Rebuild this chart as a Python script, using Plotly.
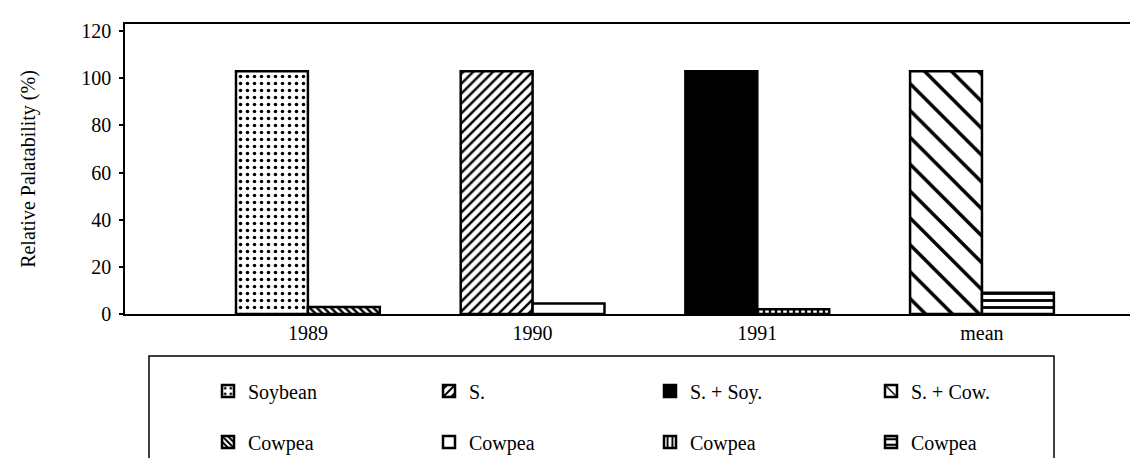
import plotly.graph_objects as go

# ---- data ----
categories = ["1989", "1990", "1991", "mean"]
main_names = ["Soybean", "S.", "S. + Soy.", "S. + Cow."]
main_values = [103, 103, 103, 103]
cowpea_names = ["Cowpea", "Cowpea", "Cowpea", "Cowpea"]
cowpea_values = [3, 4.5, 2, 9]
y_ticks = [0, 20, 40, 60, 80, 100, 120]

FONT = "Liberation Serif, Times New Roman, serif"

# ---- styles ----
main_styles = [
    dict(shape=".", size=7, solidity=0.2, bg="white"),
    dict(shape="/", size=7, solidity=0.35, bg="white"),
    dict(shape="", size=8, solidity=0.3, bg="black"),
    dict(shape="\\", size=19, solidity=0.18, bg="white"),
]
cow_styles = [
    dict(shape="\\", size=5, solidity=0.5, bg="white"),
    dict(shape="", size=8, solidity=0.3, bg="white"),
    dict(shape="|", size=6, solidity=0.4, bg="white"),
    dict(shape="-", size=7, solidity=0.4, bg="white"),
]

BAR_W = 0.32

fig = go.Figure()

def add_bar(cat, val, name, st, offset, legend):
    pat = dict(fillmode="replace", bgcolor=st["bg"], fgcolor="black")
    if st["shape"]:
        pat.update(shape=st["shape"], size=st["size"], solidity=st["solidity"])
    fig.add_trace(go.Bar(
        x=[cat], y=[val], name=name,
        width=BAR_W, offset=offset,
        marker=dict(color=st["bg"], line=dict(color="black", width=2.5), pattern=pat),
        legend=legend, showlegend=True,
    ))

for c, v, n, st in zip(categories, main_values, main_names, main_styles):
    add_bar(c, v, n, st, -BAR_W, "legend")
for c, v, n, st in zip(categories, cowpea_values, cowpea_names, cow_styles):
    add_bar(c, v, n, st, 0, "legend2")

L, R, T, B = 117, 0, 16, 152
W, H = 1138, 458
pw = W - L - R
ph = H - T - B

def px_x(p):
    return (p - L) / pw

def px_y(p):
    return (H - B - p) / ph

legend_common = dict(
    orientation="h", xanchor="left", yanchor="middle",
    font=dict(family=FONT, size=20, color="black"),
    bgcolor="rgba(0,0,0,0)", borderwidth=0,
    entrywidth=176, entrywidthmode="pixels",
)

fig.update_layout(
    width=W, height=H,
    margin=dict(l=L, r=R, t=T, b=B, autoexpand=False),
    paper_bgcolor="white", plot_bgcolor="white",
    barmode="overlay",
    font=dict(family=FONT, size=20, color="black"),
    legend=dict(x=px_x(200), y=px_y(383), **legend_common),
    legend2=dict(x=px_x(200), y=px_y(434), **legend_common),
    xaxis=dict(
        type="category", categoryorder="array", categoryarray=categories,
        range=[-0.814, 3.73],
        showline=True, linecolor="black", linewidth=1.5, mirror=True,
        ticks="", showgrid=False, zeroline=False,
        tickfont=dict(family=FONT, size=20, color="black"),
    ),
    yaxis=dict(
        range=[0, 123], tickvals=y_ticks,
        showline=True, linecolor="black", linewidth=1.5,
        ticks="outside", ticklen=4, tickwidth=1.5, tickcolor="black",
        ticklabelstandoff=4,
        showgrid=False, zeroline=False,
        tickfont=dict(family=FONT, size=20, color="black"),
        title=dict(text="Relative Palatability (%)", standoff=40,
                   font=dict(family=FONT, size=20, color="black")),
    ),
    shapes=[dict(
        type="rect", xref="paper", yref="paper",
        x0=px_x(141), x1=px_x(1046), y0=px_y(348), y1=px_y(475),
        line=dict(color="black", width=1.5), fillcolor="rgba(0,0,0,0)",
    )],
)

fig.write_html("out.html")
